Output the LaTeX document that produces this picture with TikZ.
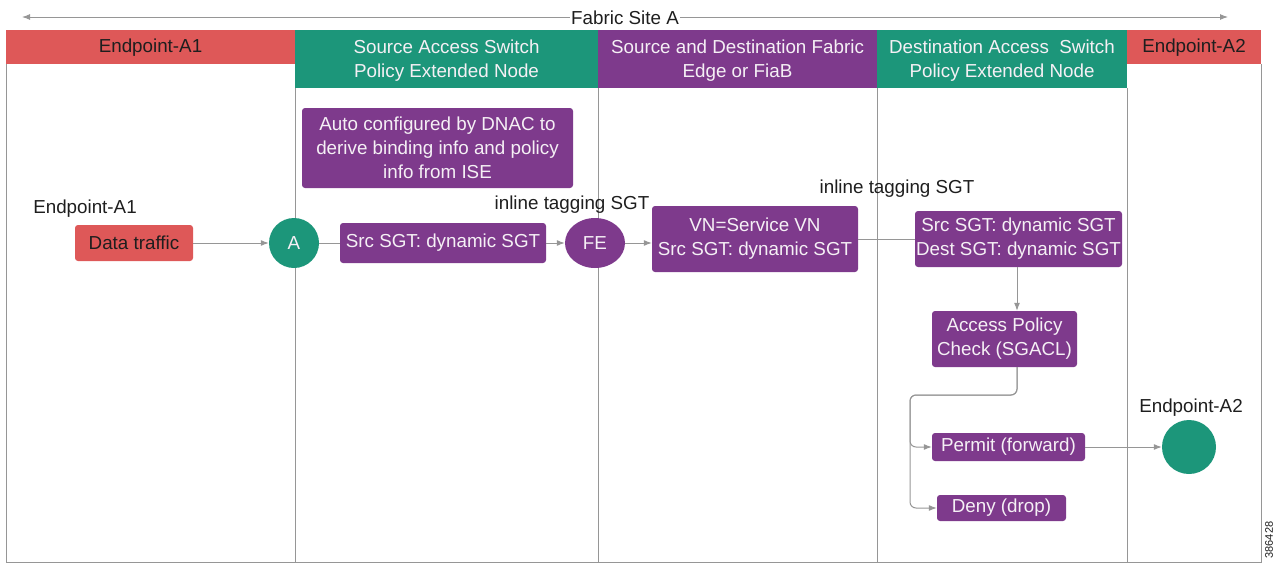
\documentclass[tikz,border=0pt]{standalone}
\usepackage{fontspec}
\setmainfont{Liberation Sans}
\usetikzlibrary{arrows.meta,shapes.geometric}
\definecolor{cred}{RGB}{222,88,88}
\definecolor{cgreen}{RGB}{28,150,122}
\definecolor{cpurple}{RGB}{126,58,140}
\definecolor{cline}{RGB}{150,150,150}
\definecolor{ctextw}{RGB}{245,240,245}
\definecolor{ctextd}{RGB}{30,30,30}
\tikzset{
  txt/.style={font=\fontsize{18.8}{24}\selectfont},
  pbox/.style={txt,rectangle,rounded corners=3pt,fill=cpurple,text=ctextw,align=center,inner sep=0pt},
  rbox/.style={txt,rectangle,rounded corners=3pt,fill=cred,text=ctextd,align=center,inner sep=0pt},
  hdr/.style={txt,align=center},
  lbl/.style={txt,text=ctextd},
  conn/.style={draw=cline,line width=1pt},
  arr/.style={conn,-{Latex[length=8pt,width=6pt]}},
}
\begin{document}
\begin{tikzpicture}[x=1pt,y=-1pt]
\useasboundingbox (0,0) rectangle (1283,565);
% top arrow
\node[lbl,inner sep=1pt] (site) at (625,18) {Fabric Site A};
\coordinate (sl) at (22,17);
\coordinate (sr) at (1228,17);
\draw[arr] (site.west |- sl) -- (sl);
\draw[arr] (site.east |- sr) -- (sr);
% headers
\fill[cred] (6,30) rectangle (295,64);
\fill[cgreen] (295,30) rectangle (598,88);
\fill[cpurple] (598,30) rectangle (877,88);
\fill[cgreen] (877,30) rectangle (1127,88);
\fill[cred] (1127,30) rectangle (1261,64);
\node[hdr,text=ctextd] (h1) at (150.5,48) {Endpoint-A1};
\node[hdr,text=ctextw] (h2) at (446.5,61) {Source Access Switch\\Policy Extended Node};
\node[hdr,text=ctextw] (h3) at (737.5,61) {Source and Destination Fabric\\Edge or FiaB};
\node[hdr,text=ctextw] (h4) at (1002,61) {Destination Access\ \ Switch\\Policy Extended Node};
\node[hdr,text=ctextd] (h5) at (1194,48) {Endpoint-A2};
% column lines
\draw[cline,line width=0.8pt] (6,64) -- (6,562) -- (1261,562) -- (1261,64);
\draw[cline,line width=0.8pt] (295,88) -- (295,562);
\draw[cline,line width=0.8pt] (598,88) -- (598,562);
\draw[cline,line width=0.8pt] (877,88) -- (877,562);
\draw[cline,line width=0.8pt] (1127,88) -- (1127,562);
% nodes
\node[lbl] (ep1) at (85,209) {Endpoint-A1};
\node[rbox,minimum width=118pt,minimum height=36pt] (data) at (134,243) {Data traffic};
\node[circle,fill=cgreen,minimum size=50pt,inner sep=0pt,txt,text=ctextw] (a) at (294,243) {A};
\node[pbox,minimum width=271pt,minimum height=80pt] (auto) at (437.5,148) {Auto configured by DNAC to\\derive binding info and policy\\info from ISE};
\node[pbox,minimum width=206pt,minimum height=40pt] (src) at (443,243) {Src SGT: dynamic SGT};
\node[ellipse,fill=cpurple,minimum width=60pt,minimum height=50pt,inner sep=0pt,txt,text=ctextw] (fe) at (595,243) {FE};
\node[lbl] (tag1) at (572,205) {inline tagging SGT};
\node[pbox,minimum width=206pt,minimum height=66pt] (vn) at (755,239) {VN=Service VN\\Src SGT: dynamic SGT};
\node[lbl] (tag2) at (897,189) {inline tagging SGT};
\node[pbox,minimum width=207pt,minimum height=56pt] (sd) at (1018.5,239) {Src SGT: dynamic SGT\\Dest SGT: dynamic SGT};
\node[pbox,minimum width=145pt,minimum height=56pt] (ap) at (1004.5,339) {Access Policy\\Check (SGACL)};
\node[pbox,minimum width=153pt,minimum height=28pt] (permit) at (1008.5,447) {Permit (forward)};
\node[pbox,minimum width=129pt,minimum height=26pt] (deny) at (1001.5,508) {Deny (drop)};
\node[circle,fill=cgreen,minimum size=54pt,inner sep=0pt] (ep2c) at (1189,447) {};
\node[lbl] (ep2) at (1191,408) {Endpoint-A2};
\node[font=\fontsize{11}{13}\selectfont,rotate=90,text=ctextd] (num) at (1269,540) {386428};
% connectors
\draw[arr] (data.east) -- (a.west);
\draw[conn] (a.east) -- (src.west);
\draw[arr] (src.east) -- (fe.west);
\draw[arr] (fe.east) -- (fe.east -| vn.west);
\draw[conn] (vn.east) -- (sd.west);
\coordinate (apout) at (1017,367);
\coordinate (split) at (910,395);
\draw[arr] (sd.south -| apout) -- (ap.north -| apout);
\draw[arr,rounded corners=6pt] (ap.south -| apout) |- (split) |- (permit.west);
\draw[arr,rounded corners=6pt] (ap.south -| apout) |- (split) |- (deny.west);
\draw[arr] (permit.east) -- (ep2c.west);
\end{tikzpicture}
\end{document}
